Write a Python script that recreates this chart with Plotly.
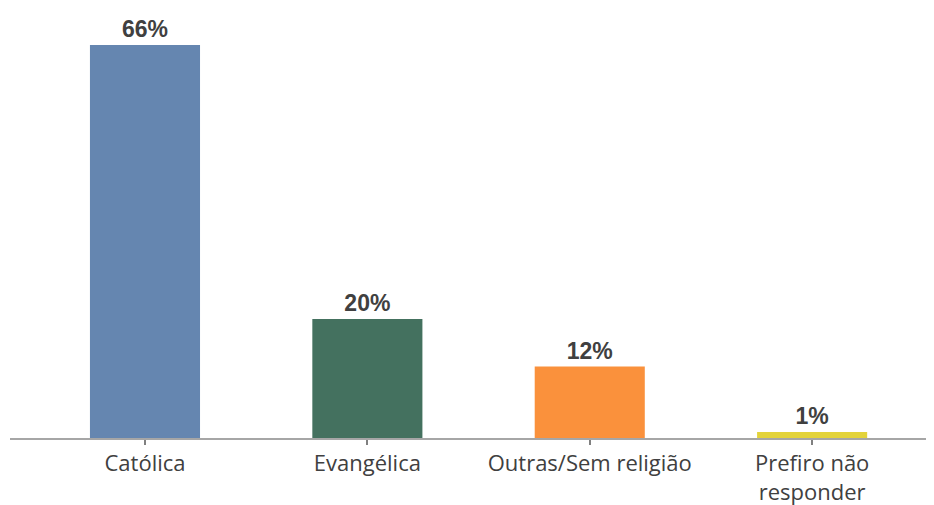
import plotly.graph_objects as go

categories = ["Católica", "Evangélica", "Outras/Sem religião", "Prefiro não<br>responder"]
values = [66, 20, 12, 1]
labels = ["66%", "20%", "12%", "1%"]
colors = ["#6586B0", "#44715F", "#FA913C", "#E3D33A"]

fig = go.Figure()

fig.add_trace(go.Bar(
    x=categories,
    y=values,
    width=0.495,
    marker=dict(color=colors, line=dict(width=0)),
    text=labels,
    textposition="outside",
    cliponaxis=False,
    textfont=dict(family="Liberation Sans, Arial", size=23, color="#404040", weight="bold"),
    hoverinfo="x+y",
))

# page has an 8px body margin, so the figure is a bit smaller than the window
fig.update_layout(
    width=926,
    height=497,
    margin=dict(l=2, r=0, t=0, b=67),
    plot_bgcolor="white",
    paper_bgcolor="white",
    showlegend=False,
    xaxis=dict(
        range=[-0.607, 3.548],
        automargin=False,
        showline=True,
        linecolor="#A6A6A6",
        linewidth=2,
        ticks="outside",
        tickcolor="#808080",
        ticklen=5,
        tickwidth=2,
        tickfont=dict(family="Open Sans, Noto Sans, DejaVu Sans", size=22, color="#404040"),
        showgrid=False,
    ),
    yaxis=dict(
        range=[0, 72.2],
        visible=False,
        showgrid=False,
        zeroline=False,
    ),
)

fig.write_html("out.html")
